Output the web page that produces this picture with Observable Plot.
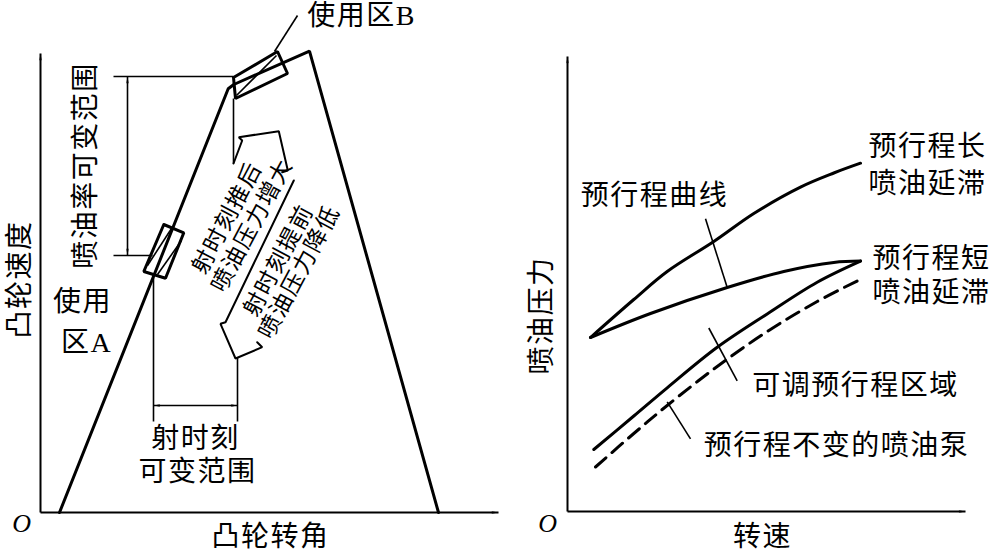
<!DOCTYPE html>
<html><head><meta charset="utf-8">
<script src="https://cdn.jsdelivr.net/npm/d3@7"></script>
<script src="https://cdn.jsdelivr.net/npm/@observablehq/plot@0.6"></script>
<style>
html,body{margin:0;padding:0;background:#fff;}
#wrap{display:flex;width:993px;height:553px;overflow:hidden;background:#fff;}
</style></head><body><div id="wrap"></div>
<script>
// ===== LEFT PANEL: 凸轮速度 vs 凸轮转角 (units measured from origin O) =====
const camAngle = [19, 187.7, 193.3, 269, 398];
const camSpeed = [0, 423.7, 428, 461.3, 0];

const boxAx = [123.3, 143.3, 125, 103.3, 123.3];
const boxAy = [288, 279.7, 234.3, 241, 288];
const boxBx = [193, 237, 247, 195, 193];
const boxBy = [435, 461, 439, 414, 435];

// thin segments: hatching, leader, dimension lines
const leftSegments = [
  {x1: 107, y1: 247, x2: 131, y2: 284},   // hatch A
  {x1: 117, y1: 238, x2: 141, y2: 272},   // hatch A
  {x1: 196, y1: 417, x2: 236, y2: 457},   // hatch B
  {x1: 234, y1: 461, x2: 257, y2: 497},   // leader 使用区B
  {x1: 73, y1: 436, x2: 193, y2: 436},    // upper dimension line
  {x1: 73, y1: 257, x2: 112, y2: 257},    // lower dimension line
  {x1: 193, y1: 414, x2: 193, y2: 349},   // from box B down
  {x1: 113, y1: 238, x2: 113, y2: 91},    // from box A down
  {x1: 197, y1: 155, x2: 197, y2: 91},    // from lower arrow down
  {x1: 87, y1: 436, x2: 87, y2: 257},     // 喷油率 range arrow
  {x1: 113, y1: 107, x2: 197, y2: 107}    // 射时刻 range arrow
];
const leftAxes = [
  {x1: 0, y1: 0, x2: 458, y2: 0},
  {x1: 0, y1: 0, x2: 0, y2: 459}
];
const leftHeads = [
  {x: 458, y: 0, rot: 90, r: 10},
  {x: 0, y: 459, rot: 0, r: 10},
  {x: 87, y: 436, rot: 0, r: 10},
  {x: 87, y: 257, rot: 180, r: 10},
  {x: 113, y: 107, rot: -90, r: 9},
  {x: 197, y: 107, rot: 90, r: 9}
];
// open block-arrow outlines
const upArrowX = [193, 201.7, 198.3, 238.3, 247.3, 241.7];
const upArrowY = [349, 372, 375.3, 381.3, 342, 340.3];
const downArrowX = [253.3, 185, 180, 195, 221.7, 216.7];
const downArrowY = [332, 190.3, 188.7, 154, 165.3, 170.3];

const leftLabels = [
  {text: "使用区B", x: 321, y: 496},
  {text: "使用", x: 42, y: 210},
  {text: "区A", x: 46, y: 169},
  {text: "射时刻", x: 155, y: 73.5},
  {text: "可变范围", x: 157, y: 40},
  {text: "凸轮转角", x: 230, y: -25}
];
const leftVertLabels = [
  {text: "喷油率可变范围", x: 46, y: 347},
  {text: "凸轮速度", x: -20, y: 233}
];
const leftTiltLabels = [
  {text: "射时刻推后", x: 186.7, y: 294.5},
  {text: "喷油压力增大", x: 211.7, y: 287},
  {text: "射时刻提前", x: 238.3, y: 252},
  {text: "喷油压力降低", x: 259, y: 240.3}
];
const leftOrigin = [{text: "O", x: -18, y: -11}];

// ===== RIGHT PANEL: 喷油压力 vs 转速 =====
const longX = [23, 66.3, 99.7, 146.3, 186.3, 233, 266.3, 293];
const longY = [174, 212, 240, 270, 298, 324.4, 338.5, 348.3];
const shortX = [23, 83, 159.7, 216.3, 266.3, 293];
const shortY = [174, 198, 224, 240, 249, 250.4];
const lowX = [26.3, 66.3, 99.7, 149.7, 199.7, 249.7, 293];
const lowY = [62, 95.5, 123.7, 164.2, 197.6, 229.3, 250.4];
const fixedX = [28, 66.3, 99.7, 149.7, 199.7, 249.7, 294.7];
const fixedY = [44.5, 78, 106, 145, 180, 210, 233];

const rightLeaders = [
  {x1: 138, y1: 292.7, x2: 159.7, y2: 224},
  {x1: 141.3, y1: 183.5, x2: 169.7, y2: 130.7},
  {x1: 99.7, y1: 109.6, x2: 123, y2: 72.6}
];
const rightAxes = [
  {x1: 0, y1: 0, x2: 398, y2: 0},
  {x1: 0, y1: 0, x2: 0, y2: 455}
];
const rightHeads = [
  {x: 398, y: 0, rot: 90, r: 10},
  {x: 0, y: 455, rot: 0, r: 10}
];
const rightLabels = [
  {text: "预行程曲线", x: 87, y: 315.5},
  {text: "预行程长", x: 360, y: 364},
  {text: "喷油延滞", x: 360, y: 327},
  {text: "预行程短", x: 364, y: 252},
  {text: "喷油延滞", x: 364, y: 218},
  {text: "可调预行程区域", x: 288, y: 125.3},
  {text: "预行程不变的喷油泵", x: 269, y: 65.4},
  {text: "转速", x: 195, y: -26}
];
const rightVertLabels = [{text: "喷油压力", x: -25, y: 196}];
const rightOrigin = [{text: "O", x: -19, y: -12}];

// ===== helpers =====
const pts = (xs, ys) => xs.map((x, i) => ({x, y: ys[i]}));
const arrowHead = {
  draw(ctx, size) {
    const s = Math.sqrt(size / Math.PI);
    ctx.moveTo(0, 0);
    ctx.lineTo(-0.4 * s, 2.3 * s);
    ctx.lineTo(0, 1.8 * s);
    ctx.lineTo(0.4 * s, 2.3 * s);
    ctx.closePath();
  }
};
const FONT = "'Liberation Serif','Noto Sans CJK SC',serif";
const svgStyle = `background:#fff;font-family:${FONT};letter-spacing:1.5px;overflow:visible;`;

const textOpts = (extra) => Object.assign({x: "x", y: "y", text: "text", fill: "black",
  textAnchor: "middle", lineAnchor: "middle", fontSize: 28}, extra);

const left = Plot.plot({
  width: 500, height: 553, margin: 0,
  x: {domain: [-40, 460], axis: null},
  y: {domain: [-41, 512], axis: null},
  style: svgStyle,
  marks: [
    Plot.link(leftAxes, {x1: "x1", y1: "y1", x2: "x2", y2: "y2", stroke: "black", strokeWidth: 2}),
    Plot.line(pts(camAngle, camSpeed), {x: "x", y: "y", stroke: "black", strokeWidth: 3, strokeLinejoin: "miter"}),
    Plot.line(pts(boxAx, boxAy), {x: "x", y: "y", stroke: "black", strokeWidth: 3, strokeLinejoin: "miter"}),
    Plot.line(pts(boxBx, boxBy), {x: "x", y: "y", stroke: "black", strokeWidth: 3, strokeLinejoin: "miter"}),
    Plot.link(leftSegments, {x1: "x1", y1: "y1", x2: "x2", y2: "y2", stroke: "black", strokeWidth: 1.6}),
    Plot.line(pts(upArrowX, upArrowY), {x: "x", y: "y", stroke: "black", strokeWidth: 2, strokeLinejoin: "miter"}),
    Plot.line(pts(downArrowX, downArrowY), {x: "x", y: "y", stroke: "black", strokeWidth: 2, strokeLinejoin: "miter"}),
    Plot.dot(leftHeads, {x: "x", y: "y", r: "r", rotate: "rot", symbol: arrowHead, fill: "black", stroke: "none"}),
    Plot.text(leftLabels, textOpts({})),
    Plot.text(leftVertLabels, textOpts({rotate: -90})),
    Plot.text(leftTiltLabels, textOpts({rotate: -62, fontSize: 23})),
    Plot.text(leftOrigin, textOpts({fontStyle: "italic", fontFamily: "Liberation Serif", fontSize: 26}))
  ]
});

const right = Plot.plot({
  width: 493, height: 553, margin: 0,
  x: {domain: [-67, 426], axis: null},
  y: {domain: [-42, 511], axis: null},
  style: svgStyle,
  marks: [
    Plot.link(rightAxes, {x1: "x1", y1: "y1", x2: "x2", y2: "y2", stroke: "black", strokeWidth: 2}),
    Plot.line(pts(longX, longY), {x: "x", y: "y", stroke: "black", strokeWidth: 3, curve: "catmull-rom"}),
    Plot.line(pts(shortX, shortY), {x: "x", y: "y", stroke: "black", strokeWidth: 3, curve: "catmull-rom"}),
    Plot.line(pts(lowX, lowY), {x: "x", y: "y", stroke: "black", strokeWidth: 3, curve: "catmull-rom"}),
    Plot.line(pts(fixedX, fixedY), {x: "x", y: "y", stroke: "black", strokeWidth: 3, curve: "catmull-rom", strokeDasharray: "14,8"}),
    Plot.link(rightLeaders, {x1: "x1", y1: "y1", x2: "x2", y2: "y2", stroke: "black", strokeWidth: 1.6}),
    Plot.dot(rightHeads, {x: "x", y: "y", r: "r", rotate: "rot", symbol: arrowHead, fill: "black", stroke: "none"}),
    Plot.text(rightLabels, textOpts({})),
    Plot.text(rightVertLabels, textOpts({rotate: -90})),
    Plot.text(rightOrigin, textOpts({fontStyle: "italic", fontFamily: "Liberation Serif", fontSize: 26}))
  ]
});

document.getElementById("wrap").append(left, right);
</script></body></html>
